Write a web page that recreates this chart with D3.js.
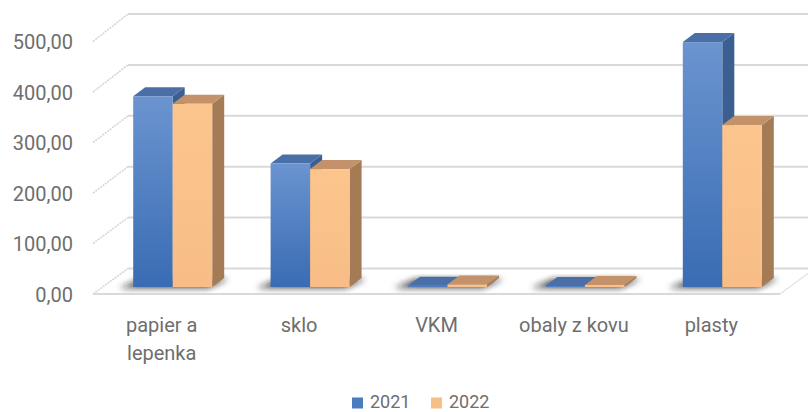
<!DOCTYPE html>
<html>
<head>
<meta charset="utf-8">
<script src="https://cdn.jsdelivr.net/npm/d3@7/dist/d3.min.js"></script>
<style>
  html, body { margin: 0; padding: 0; background: #fff; }
  svg { display: block; }
  text { font-family: Roboto, "Liberation Sans", sans-serif; fill: #6e6e6e; }
</style>
</head>
<body>
<svg id="chart" width="808" height="412"></svg>
<script>
// ---- data ----
const categories = ["papier a lepenka", "sklo", "VKM", "obaly z kovu", "plasty"];
const categoryLines = [["papier a", "lepenka"], ["sklo"], ["VKM"], ["obaly z kovu"], ["plasty"]];
const seriesNames = ["2021", "2022"];
const values2021 = [377, 244, 2.5, 2.0, 484];
const values2022 = [362, 233, 5.0, 4.0, 320];
const tickValues = [0, 100, 200, 300, 400, 500];
const tickLabels = ["0,00", "100,00", "200,00", "300,00", "400,00", "500,00"];

const series = [values2021, values2022];

// ---- geometry ----
const svg = d3.select("#chart");
const W = 808, H = 412;
const frontLeft = 93, frontRight = 780;
const wallDx = 35;
const barDx = 12, barDy = -9;
const barShift = 11;
const textColor = "#6e6e6e";

const x = d3.scaleBand().domain(categories).range([frontLeft, frontRight]);
const yFront = d3.scaleLinear().domain([0, 500]).range([294, 41.5]);
const yBack = d3.scaleLinear().domain([0, 500]).range([268.5, 14]);
const yBar = d3.scaleLinear().domain([0, 500]).range([287, 34]);

const defs = svg.append("defs");
const gBlue = defs.append("linearGradient").attr("id", "gBlue").attr("x1", 0).attr("y1", 0).attr("x2", 0).attr("y2", 1);
gBlue.append("stop").attr("offset", "0%").attr("stop-color", "#6b94d0");
gBlue.append("stop").attr("offset", "100%").attr("stop-color", "#396cb3");
const gOr = defs.append("linearGradient").attr("id", "gOr").attr("x1", 0).attr("y1", 0).attr("x2", 0).attr("y2", 1);
gOr.append("stop").attr("offset", "0%").attr("stop-color", "#fcc58e");
gOr.append("stop").attr("offset", "100%").attr("stop-color", "#f8bd86");
const blur = defs.append("filter").attr("id", "blur").attr("x", "-50%").attr("y", "-50%").attr("width", "200%").attr("height", "200%");
blur.append("feGaussianBlur").attr("stdDeviation", 3.2);

const colors = [
  { front: "url(#gBlue)", top: "#4a6fa6", side: "#3c5f92", legend: "#4a7cc0" },
  { front: "url(#gOr)", top: "#c4926a", side: "#a57b56", legend: "#f8be88" }
];

// ---- floor ----
const y0f = yFront(0), y0b = yBack(0);
svg.append("polygon")
  .attr("points", [[frontLeft, y0f], [frontRight, y0f], [frontRight + wallDx, y0b], [frontLeft + wallDx, y0b]].map(p => p.join(",")).join(" "))
  .attr("fill", "#ffffff").attr("stroke", "none");

// back wall gridlines
svg.append("g").selectAll("line").data(tickValues).join("line")
  .attr("x1", frontLeft + wallDx).attr("x2", W)
  .attr("y1", d => yBack(d)).attr("y2", d => yBack(d))
  .attr("stroke", "#d9d9d9").attr("stroke-width", 2);

// side wall gridlines
svg.append("g").selectAll("line").data(tickValues).join("line")
  .attr("x1", frontLeft).attr("x2", frontLeft + wallDx)
  .attr("y1", d => yFront(d)).attr("y2", d => yBack(d))
  .attr("stroke", "#d6d6d6").attr("stroke-width", 1.6)
  .attr("stroke-dasharray", "2,1");

// floor front edge
svg.append("line")
  .attr("x1", frontLeft).attr("x2", frontRight)
  .attr("y1", y0f).attr("y2", y0f)
  .attr("stroke", "#d9d9d9").attr("stroke-width", 2.2);
svg.append("line")
  .attr("x1", frontRight).attr("x2", frontRight + wallDx)
  .attr("y1", y0f).attr("y2", y0b)
  .attr("stroke", "#e2e2e2").attr("stroke-width", 1.2);

// ---- bars ----
const bw = 39.5;
const groupW = bw * 2;
function barX(ci, si) {
  const c = categories[ci];
  return x(c) + x.bandwidth() / 2 + barShift - groupW / 2 + si * bw;
}

const shadowG = svg.append("g").attr("filter", "url(#blur)");
categories.forEach((c, ci) => {
  const xl = barX(ci, 0), xr = barX(ci, 1) + bw;
  const yb = yBar(0);
  const pts = [[xl - 14, yb + 1], [xr - 4, yb + 1], [xr + barDx + 4, yb + barDy + 1], [xl + barDx - 4, yb + barDy + 1]];
  shadowG.append("polygon")
    .attr("points", pts.map(p => p.join(",")).join(" "))
    .attr("fill", "#1a1a1a").attr("opacity", 0.8);
});

const barsG = svg.append("g");
categories.forEach((c, ci) => {
  series.forEach((vals, si) => {
    const v = vals[ci];
    const x0 = barX(ci, si), x1 = x0 + bw;
    const yt = yBar(v), yb = yBar(0);
    const g = barsG.append("g");
    g.append("polygon")
      .attr("points", [[x1, yt], [x1 + barDx, yt + barDy], [x1 + barDx, yb + barDy], [x1, yb]].map(p => p.join(",")).join(" "))
      .attr("fill", colors[si].side);
    g.append("polygon")
      .attr("points", [[x0, yt], [x1, yt], [x1 + barDx, yt + barDy], [x0 + barDx, yt + barDy]].map(p => p.join(",")).join(" "))
      .attr("fill", colors[si].top);
    g.append("rect")
      .attr("x", x0).attr("y", yt)
      .attr("width", bw).attr("height", Math.max(0.5, yb - yt))
      .attr("fill", colors[si].front);
  });
});

// ---- y axis labels ----
const yAxis = d3.axisLeft(yFront)
  .tickValues(tickValues)
  .tickFormat((d, i) => tickLabels[i])
  .tickSize(0).tickPadding(0);
const ya = svg.append("g").attr("transform", "translate(73,0)").call(yAxis);
ya.select(".domain").remove();
ya.selectAll("text")
  .attr("font-family", "Roboto, sans-serif")
  .attr("font-size", 20).attr("fill", textColor).attr("dy", "0.36em");

// ---- x axis labels ----
const xAxis = d3.axisBottom(x).tickSize(0).tickPadding(0).tickFormat(() => "");
const xa = svg.append("g").call(xAxis);
xa.select(".domain").remove();
xa.selectAll(".tick text").each(function (d, i) {
  const t = d3.select(this);
  t.attr("y", 332).attr("dy", null)
    .attr("font-family", "Roboto, sans-serif").attr("font-size", 20).attr("fill", textColor)
    .attr("text-anchor", "middle");
  categoryLines[i].forEach((ln, li) => {
    t.append("tspan").attr("x", 0).attr("y", 332 + li * 28).text(ln);
  });
});

// ---- legend ----
const legend = svg.append("g");
const legendItems = [{ name: seriesNames[0], x: 352 }, { name: seriesNames[1], x: 431 }];
legendItems.forEach((it, i) => {
  legend.append("rect").attr("x", it.x).attr("y", 397.5).attr("width", 11).attr("height", 11)
    .attr("fill", colors[i].legend);
  legend.append("text").attr("x", it.x + 18).attr("y", 408)
    .attr("font-size", 18).attr("fill", textColor).text(it.name);
});
</script>
</body>
</html>
